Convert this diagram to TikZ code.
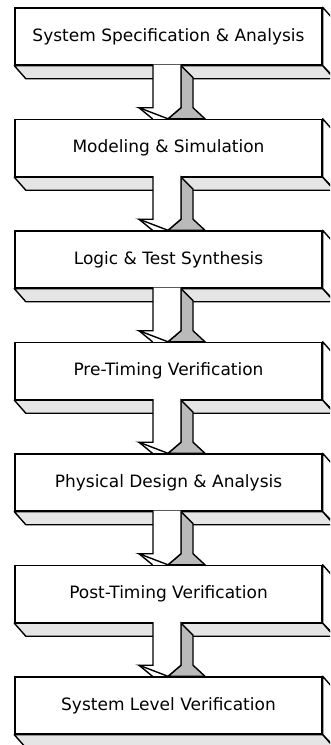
\documentclass[tikz,border=0pt]{standalone}
\usepackage{fontspec}
\setmainfont{DejaVu Sans}
\tikzset{
	stage/.style={draw, fill=white, line width=1.4pt, minimum width=307pt, minimum height=57pt, inner sep=0pt, font=\fontsize{17}{20}\selectfont},
	underside/.style={draw, line width=1.4pt, fill=black!10, line join=round},
	rightside/.style={draw, line width=1.4pt, fill=white, line join=round},
	shaftface/.style={draw, line width=1.4pt, fill=white, line join=miter},
	shaftshade/.style={draw, line width=1.4pt, fill=black!27, line join=miter},
}
\begin{document}
\begin{tikzpicture}[x=1pt, y=-1pt]
	\useasboundingbox (0,0) rectangle (330,745);
	\clip (0,0) rectangle (330,745);
	% slabs
	\foreach \stagename [count=\i] in {System Specification \& Analysis, Modeling \& Simulation, Logic \& Test Synthesis, Pre-Timing Verification, Physical Design \& Analysis, Post-Timing Verification, System Level Verification} {
		\node[stage] (s\i) at (168.5,{36.5+111.5*(\i-1)}) {\stagename};
		\draw[rightside] (s\i.north east) -- ++(11.5,13) -- ++(0,57) -- (s\i.south east) -- cycle;
		\draw[underside] (s\i.south west) -- (s\i.south east) -- ++(11.5,13) -- ([shift={(11.5,13)}]s\i.south west) -- cycle;
	}
	% block arrows
	\foreach \i [evaluate=\i as \j using int(\i+1)] in {1,...,6} {
		\draw[shaftshade] ([shift={(12.5,0)}]s\i.south) -- ++(12,12) -- ++(0,30) -- ([shift={(36.5,0)}]s\j.north) -- ([shift={(-0.5,0)}]s\j.north) -- ([shift={(12.5,42)}]s\i.south) -- cycle;
		\draw[shaftface] ([shift={(-15.5,-1)}]s\i.south) -- ++(0,43) -- ++(-14,0) -- ([shift={(-0.5,0)}]s\j.north) -- ([shift={(12.5,42)}]s\i.south) -- ([shift={(12.5,-1)}]s\i.south);
		\draw[line width=1.4pt] ([shift={(-29.5,42)}]s\i.south) -- ([shift={(-16,0)}]s\j.north);
	}
\end{tikzpicture}
\end{document}
